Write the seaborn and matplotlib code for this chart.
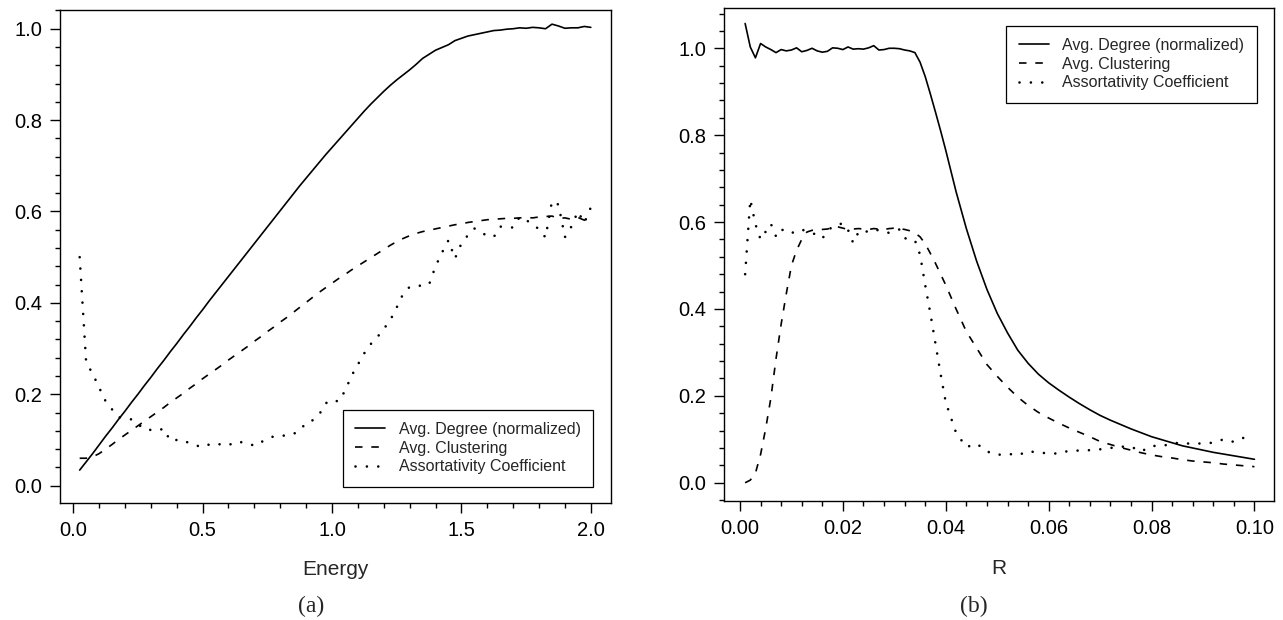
import matplotlib
matplotlib.use("Agg")
import matplotlib.pyplot as plt
from matplotlib.ticker import MultipleLocator, FormatStrFormatter
import seaborn as sns

# ---------------- data: panel (a) ----------------
energy = [0.025, 0.05, 0.075, 0.1, 0.125, 0.15, 0.175, 0.2, 0.225, 0.25,
          0.275, 0.3, 0.325, 0.35, 0.375, 0.4, 0.425, 0.45, 0.475, 0.5,
          0.525, 0.55, 0.575, 0.6, 0.625, 0.65, 0.675, 0.7, 0.725, 0.75,
          0.775, 0.8, 0.825, 0.85, 0.875, 0.9, 0.925, 0.95, 0.975, 1.0,
          1.025, 1.05, 1.075, 1.1, 1.125, 1.15, 1.175, 1.2, 1.225, 1.25,
          1.275, 1.3, 1.325, 1.35, 1.375, 1.4, 1.425, 1.45, 1.475, 1.5,
          1.525, 1.55, 1.575, 1.6, 1.625, 1.65, 1.675, 1.7, 1.725, 1.75,
          1.775, 1.8, 1.825, 1.85, 1.875, 1.9, 1.925, 1.95, 1.975, 2.0]

degree_a = [0.034, 0.052, 0.070, 0.089, 0.108, 0.126, 0.145, 0.163, 0.182, 0.200,
            0.219, 0.237, 0.256, 0.274, 0.293, 0.311, 0.330, 0.348, 0.367, 0.385,
            0.404, 0.422, 0.440, 0.458, 0.476, 0.494, 0.512, 0.530, 0.548, 0.566,
            0.584, 0.602, 0.620, 0.638, 0.656, 0.673, 0.690, 0.707, 0.724, 0.740,
            0.756, 0.772, 0.788, 0.804, 0.820, 0.835, 0.849, 0.863, 0.876, 0.888,
            0.899, 0.910, 0.922, 0.935, 0.944, 0.953, 0.959, 0.965, 0.974, 0.979,
            0.984, 0.987, 0.990, 0.993, 0.996, 0.997, 0.999, 1.000, 1.002, 1.001,
            1.003, 1.002, 1.000, 1.010, 1.006, 1.001, 1.002, 1.002, 1.005, 1.003]

clustering_a = [0.060, 0.060, 0.063, 0.070, 0.080, 0.090, 0.101, 0.111, 0.121, 0.131,
                0.141, 0.151, 0.161, 0.171, 0.182, 0.192, 0.202, 0.213, 0.223, 0.234,
                0.244, 0.254, 0.264, 0.275, 0.285, 0.295, 0.305, 0.316, 0.326, 0.337,
                0.347, 0.358, 0.368, 0.379, 0.390, 0.401, 0.412, 0.423, 0.433, 0.443,
                0.453, 0.462, 0.472, 0.481, 0.490, 0.499, 0.508, 0.517, 0.526, 0.534,
                0.541, 0.547, 0.552, 0.556, 0.559, 0.562, 0.565, 0.568, 0.571, 0.573,
                0.576, 0.578, 0.580, 0.582, 0.583, 0.584, 0.585, 0.585, 0.586, 0.587,
                0.586, 0.588, 0.589, 0.590, 0.585, 0.586, 0.583, 0.587, 0.581, 0.585]

assort_a = [0.500, 0.270, 0.245, 0.215, 0.185, 0.167, 0.150, 0.147, 0.145, 0.135,
            0.123, 0.122, 0.120, 0.125, 0.098, 0.100, 0.100, 0.092, 0.088, 0.084,
            0.090, 0.093, 0.089, 0.088, 0.096, 0.095, 0.093, 0.087, 0.095, 0.102,
            0.108, 0.110, 0.109, 0.113, 0.120, 0.138, 0.143, 0.155, 0.180, 0.188,
            0.184, 0.207, 0.240, 0.265, 0.290, 0.310, 0.325, 0.343, 0.362, 0.390,
            0.420, 0.435, 0.437, 0.438, 0.440, 0.480, 0.510, 0.537, 0.497, 0.530,
            0.548, 0.563, 0.553, 0.548, 0.544, 0.567, 0.565, 0.565, 0.588, 0.582,
            0.570, 0.562, 0.543, 0.623, 0.615, 0.544, 0.567, 0.600, 0.575, 0.609]

# ---------------- data: panel (b) ----------------
radius = [0.001, 0.002, 0.003, 0.004, 0.005, 0.006, 0.007, 0.008, 0.009, 0.010,
          0.011, 0.012, 0.013, 0.014, 0.015, 0.016, 0.017, 0.018, 0.019, 0.020,
          0.021, 0.022, 0.023, 0.024, 0.025, 0.026, 0.027, 0.028, 0.029, 0.030,
          0.031, 0.032, 0.033, 0.034, 0.035, 0.036, 0.037, 0.038, 0.039, 0.040,
          0.042, 0.044, 0.046, 0.048, 0.050, 0.052, 0.054, 0.056, 0.058, 0.060,
          0.062, 0.064, 0.066, 0.068, 0.070, 0.072, 0.074, 0.076, 0.078, 0.080,
          0.082, 0.084, 0.086, 0.088, 0.090, 0.092, 0.094, 0.096, 0.098, 0.100]

degree_b = [1.057, 1.003, 0.978, 1.011, 1.003, 0.997, 0.990, 0.997, 0.994, 0.996,
            1.001, 0.992, 0.995, 1.000, 0.994, 0.991, 0.993, 1.001, 1.000, 0.997,
            1.003, 0.998, 0.999, 0.998, 1.001, 1.006, 0.996, 0.997, 1.000, 1.000,
            0.999, 0.996, 0.994, 0.990, 0.968, 0.935, 0.895, 0.853, 0.810, 0.765,
            0.670, 0.585, 0.510, 0.445, 0.390, 0.345, 0.305, 0.275, 0.250, 0.230,
            0.213, 0.197, 0.182, 0.168, 0.155, 0.144, 0.134, 0.124, 0.115, 0.106,
            0.099, 0.092, 0.085, 0.080, 0.075, 0.070, 0.066, 0.062, 0.058, 0.054]

clustering_b = [0.000, 0.006, 0.022, 0.065, 0.125, 0.195, 0.285, 0.365, 0.435, 0.500,
                0.535, 0.560, 0.577, 0.581, 0.582, 0.583, 0.584, 0.587, 0.589, 0.586,
                0.583, 0.584, 0.585, 0.584, 0.583, 0.585, 0.584, 0.583, 0.585, 0.586,
                0.585, 0.583, 0.580, 0.575, 0.566, 0.550, 0.528, 0.505, 0.480, 0.455,
                0.400, 0.348, 0.310, 0.272, 0.245, 0.220, 0.197, 0.178, 0.162, 0.149,
                0.137, 0.126, 0.116, 0.106, 0.095, 0.088, 0.081, 0.075, 0.069, 0.064,
                0.060, 0.057, 0.053, 0.050, 0.048, 0.046, 0.043, 0.041, 0.039, 0.037]

assort_b = [0.480, 0.652, 0.595, 0.560, 0.578, 0.596, 0.567, 0.584, 0.576, 0.574,
            0.581, 0.583, 0.578, 0.575, 0.570, 0.562, 0.579, 0.590, 0.594, 0.597,
            0.582, 0.552, 0.576, 0.582, 0.576, 0.580, 0.582, 0.578, 0.575, 0.580,
            0.583, 0.563, 0.560, 0.558, 0.525, 0.455, 0.390, 0.320, 0.250, 0.185,
            0.115, 0.082, 0.090, 0.072, 0.064, 0.067, 0.063, 0.073, 0.069, 0.068,
            0.067, 0.074, 0.074, 0.075, 0.077, 0.080, 0.083, 0.083, 0.072, 0.085,
            0.084, 0.091, 0.092, 0.089, 0.091, 0.092, 0.100, 0.094, 0.104, 0.104]

series_labels = ["Avg. Degree (normalized)", "Avg. Clustering", "Assortativity Coefficient"]

# ---------------- style ----------------
sns.set_style("ticks")
plt.rcParams['font.family'] = ['Liberation Sans', 'DejaVu Sans']
plt.rcParams['axes.edgecolor'] = 'black'
plt.rcParams['xtick.color'] = 'black'
plt.rcParams['ytick.color'] = 'black'

W, H = 1283, 620
fig = plt.figure(figsize=(W / 100, H / 100), dpi=100)
axA = fig.add_axes([60 / W, 1 - 503 / H, 551 / W, 493 / H])
axB = fig.add_axes([724.3 / W, 1 - 501 / H, 549.7 / W, 492.7 / H])

line_styles = [
    dict(linestyle='-', lw=1.2),
    dict(linestyle=(0, (4.5, 5.3)), lw=1.2),
    dict(linestyle=(0, (0.01, 4.3)), lw=1.9, dash_capstyle='round'),
]


def draw(ax, x, ys):
    for y, lab, st in zip(ys, series_labels, line_styles):
        sns.lineplot(x=x, y=y, ax=ax, color='black', label=lab, **st)


draw(axA, energy, [degree_a, clustering_a, assort_a])
draw(axB, radius, [degree_b, clustering_b, assort_b])

# axes limits and ticks
axA.set_xlim(-0.051, 2.078)
axA.set_ylim(-0.038, 1.041)
axA.xaxis.set_major_locator(MultipleLocator(0.5))
axA.xaxis.set_minor_locator(MultipleLocator(0.1))
axA.xaxis.set_major_formatter(FormatStrFormatter('%.1f'))

axB.set_xlim(-0.00305, 0.1038)
axB.set_ylim(-0.042, 1.092)
axB.xaxis.set_major_locator(MultipleLocator(0.02))
axB.xaxis.set_minor_locator(MultipleLocator(0.004))
axB.xaxis.set_major_formatter(FormatStrFormatter('%.2f'))

for ax in (axA, axB):
    ax.yaxis.set_major_locator(MultipleLocator(0.2))
    ax.yaxis.set_minor_locator(MultipleLocator(0.04))
    ax.yaxis.set_major_formatter(FormatStrFormatter('%.1f'))
    ax.tick_params(which='major', direction='out', length=7, width=1.0,
                   labelsize=14.5, pad=6, color='black', labelcolor='black')
    ax.tick_params(which='minor', direction='out', length=3.6, width=1.0, color='black')
    for sp in ax.spines.values():
        sp.set_visible(True)
        sp.set_linewidth(1.0)
        sp.set_color('black')
    ax.set_ylabel('')
    ax.grid(False)

axA.set_xlabel('Energy', fontsize=15)
axA.xaxis.set_label_coords(0.5, -0.115)
axB.set_xlabel('R', fontsize=15)
axB.xaxis.set_label_coords(0.5, -0.117)

leg_kw = dict(borderaxespad=0, fancybox=False, frameon=True, edgecolor='black',
              framealpha=1, fontsize=11.5, handlelength=1.9, handletextpad=0.85,
              labelspacing=0.23, borderpad=0.77)
legA = axA.legend(loc='lower right', bbox_to_anchor=(0.968, 0.033), **leg_kw)
legB = axB.legend(loc='upper right', bbox_to_anchor=(0.9687, 0.9647), **leg_kw)
for lg in (legA, legB):
    lg.get_frame().set_linewidth(0.9)

fig.text(311 / W, 1 - 606 / H, '(a)', ha='center', va='center', fontsize=17,
         family='Liberation Serif')
fig.text(974 / W, 1 - 606 / H, '(b)', ha='center', va='center', fontsize=17,
         family='Liberation Serif')

fig.savefig('out.png', dpi=100, facecolor='white')
